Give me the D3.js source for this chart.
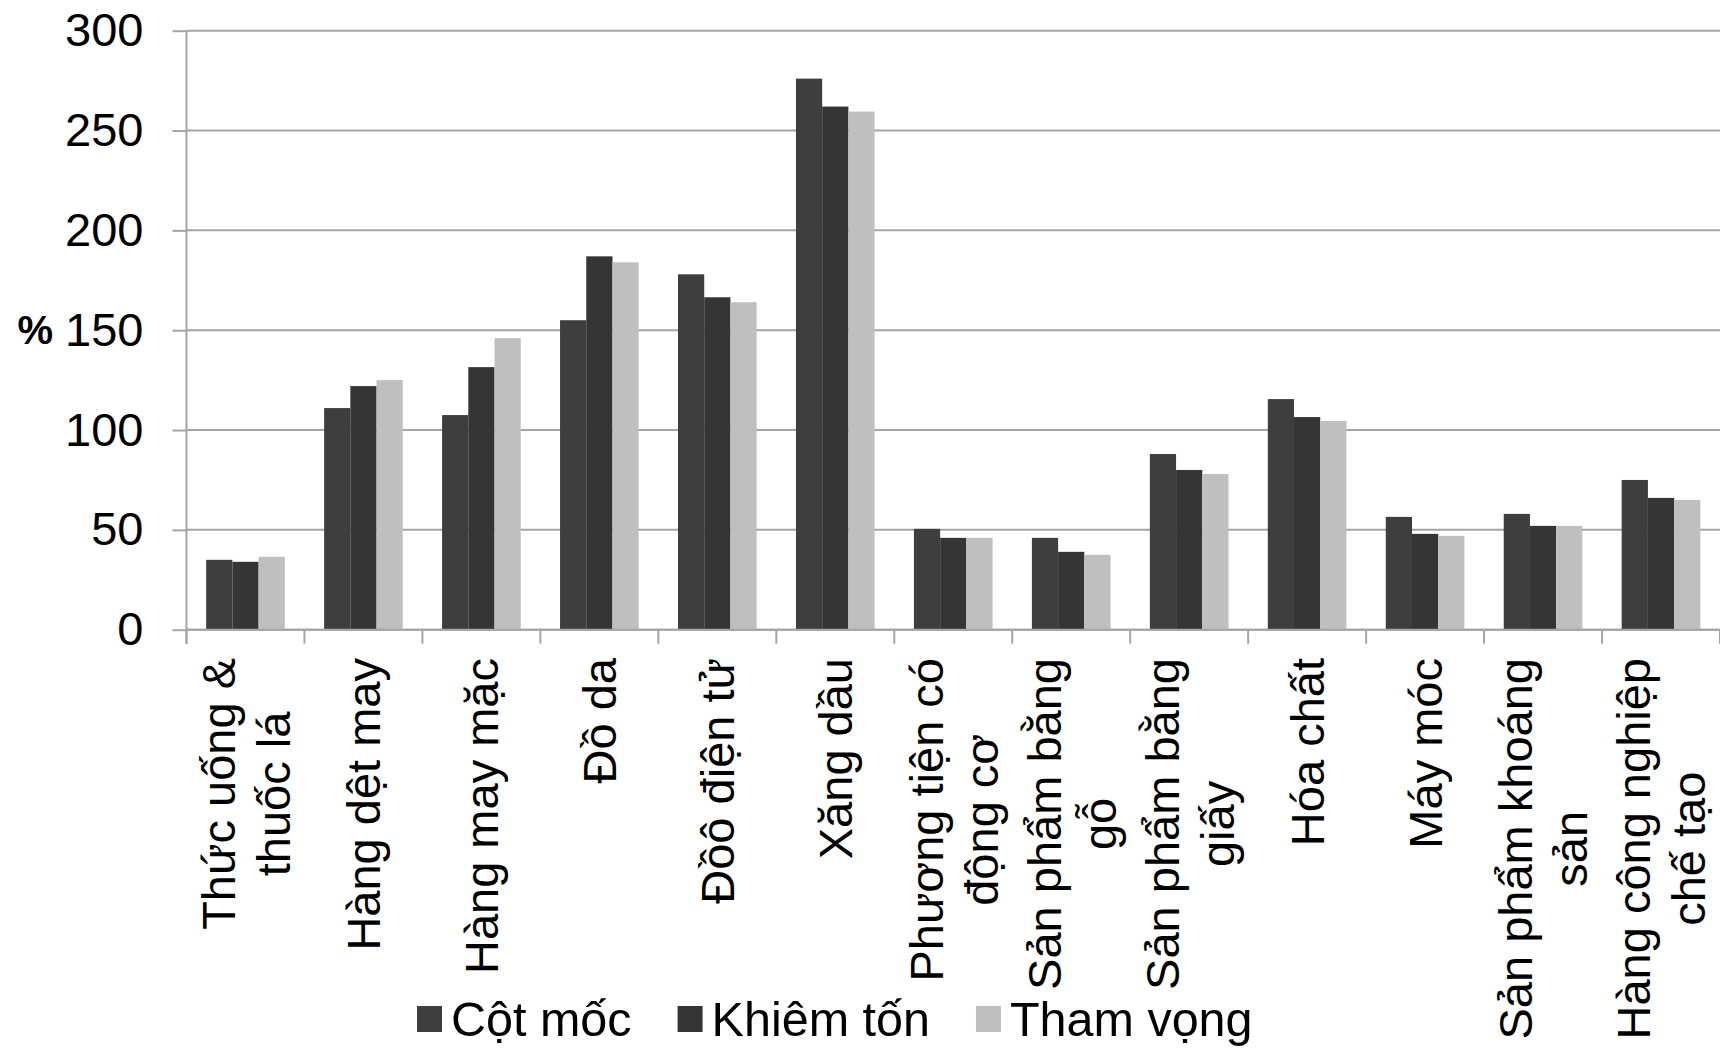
<!DOCTYPE html>
<html>
<head>
<meta charset="utf-8">
<script src="https://cdn.jsdelivr.net/npm/d3@7"></script>
<style>
  html, body { margin: 0; padding: 0; background: #fff; }
  svg { display: block; font-family: "Liberation Sans", Arial, sans-serif; }
</style>
</head>
<body>
<svg id="chart" width="1720" height="1050"></svg>
<script>
// Sector names (line breaks mark wrapped labels)
const categories = [
  "Thức uống &\nthuốc lá",
  "Hàng dệt may",
  "Hàng may mặc",
  "Đồ da",
  "Đồô điện tử",
  "Xăng dầu",
  "Phương tiện có\nđộng cơ",
  "Sản phẩm bằng\ngỗ",
  "Sản phẩm bằng\ngiấy",
  "Hóa chất",
  "Máy móc",
  "Sản phẩm khoáng\nsản",
  "Hàng công nghiệp\nchế tạo"
];

// Scenario series, in %
const seriesNames = ["Cột mốc", "Khiêm tốn", "Tham vọng"];
const cotMoc    = [35, 111, 107.5, 155, 178, 276, 50.5, 46, 88, 115.5, 56.5, 58, 75];
const khiemTon  = [34, 122, 131.5, 187, 166.5, 262, 46, 39, 80, 106.5, 48, 52, 66];
const thamVong  = [36.5, 125, 146, 184, 164, 259.5, 46, 37.5, 78, 104.5, 47, 52, 65];
const seriesColors = ["#3e3e3e", "#353535", "#bfbfbf"];

const yTicks = [0, 50, 100, 150, 200, 250, 300];
const yTitle = "%";

const seriesValues = [cotMoc, khiemTon, thamVong];

const svg = d3.select("#chart");
const W = 1720, H = 1050;
const plot = { left: 186.5, right: 1720, top: 30.7, bottom: 629.7 };
const gridColor = "#a4a4a4";
const fontSize = 47;

svg.append("rect").attr("width", W).attr("height", H).attr("fill", "#fff");

const x = d3.scaleBand().domain(categories).range([plot.left, plot.right]).padding(0);
const barW = x.bandwidth() / 4.5;
const xSub = d3.scaleBand().domain(seriesNames).range([0.75 * barW, 3.75 * barW]).padding(0);
const y = d3.scaleLinear().domain([0, 300]).range([plot.bottom, plot.top]);

// Horizontal gridlines
svg.append("g")
  .selectAll("line")
  .data(yTicks)
  .join("line")
  .attr("x1", plot.left).attr("x2", plot.right)
  .attr("y1", d => y(d)).attr("y2", d => y(d))
  .attr("stroke", gridColor).attr("stroke-width", 2);

// Y axis
const yAxis = svg.append("g")
  .attr("transform", `translate(${plot.left},0)`)
  .call(d3.axisLeft(y).tickValues(yTicks).tickSize(14).tickSizeOuter(0).tickPadding(29));
yAxis.select(".domain").remove();
yAxis.selectAll(".tick line").attr("stroke", gridColor).attr("stroke-width", 2);
yAxis.selectAll(".tick text")
  .attr("fill", "#000")
  .style("font-size", fontSize + "px")
  .style("font-family", "'Liberation Sans', Arial, sans-serif");

// Vertical axis line (runs down through the tick area)
svg.append("line")
  .attr("x1", plot.left).attr("x2", plot.left)
  .attr("y1", plot.top).attr("y2", plot.bottom + 14)
  .attr("stroke", gridColor).attr("stroke-width", 2);

// Axis title
svg.append("text")
  .attr("x", 53).attr("y", y(150))
  .attr("dy", "0.34em")
  .attr("text-anchor", "end")
  .attr("font-weight", "bold")
  .style("font-size", "40px")
  .text(yTitle);

// Category boundary ticks on the x axis
const boundaries = categories.map(c => x(c)).concat([plot.right]);
svg.append("g")
  .selectAll("line")
  .data(boundaries)
  .join("line")
  .attr("x1", d => d).attr("x2", d => d)
  .attr("y1", plot.bottom).attr("y2", plot.bottom + 14)
  .attr("stroke", gridColor).attr("stroke-width", 2);

// Bars
const groups = svg.append("g")
  .selectAll("g")
  .data(categories)
  .join("g")
  .attr("transform", d => `translate(${x(d)},0)`);

groups.selectAll("rect")
  .data((c, i) => seriesNames.map((s, k) => ({ s, k, v: seriesValues[k][i] })))
  .join("rect")
  .attr("x", d => xSub(d.s))
  .attr("width", xSub.bandwidth())
  .attr("y", d => y(d.v))
  .attr("height", d => y(0) - y(d.v))
  .attr("fill", d => seriesColors[d.k]);

// Redraw baseline over bar bottoms
svg.append("line")
  .attr("x1", plot.left).attr("x2", plot.right)
  .attr("y1", y(0)).attr("y2", y(0))
  .attr("stroke", gridColor).attr("stroke-width", 2);

// Rotated, wrapped category labels (top-aligned, lines centred)
const labelTop = 658;
const lineH = 55;
categories.forEach(c => {
  const lines = c.split("\n");
  const cx = x(c) + x.bandwidth() / 2;
  const g = svg.append("g").attr("transform", `translate(${cx},${labelTop}) rotate(-90)`);
  const t = g.append("text")
    .attr("text-anchor", "middle")
    .style("font-size", fontSize + "px");
  lines.forEach((ln, i) => {
    t.append("tspan")
      .attr("x", 0)
      .attr("y", (i - (lines.length - 1) / 2) * lineH)
      .attr("dy", "0.36em")
      .text(ln);
  });
  const maxLen = d3.max(t.selectAll("tspan").nodes(), n => n.getComputedTextLength());
  t.selectAll("tspan").attr("x", -maxLen / 2);
});

// Legend
const legend = svg.append("g").attr("transform", "translate(417,1019)");
let lx = 0;
seriesNames.forEach((s, k) => {
  legend.append("rect")
    .attr("x", lx).attr("y", -13)
    .attr("width", 25).attr("height", 26)
    .attr("fill", seriesColors[k]);
  const txt = legend.append("text")
    .attr("x", lx + 34).attr("y", 17)
    .style("font-size", "48.5px")
    .text(s);
  lx += 34 + txt.node().getComputedTextLength() + 46;
});
</script>
</body>
</html>
